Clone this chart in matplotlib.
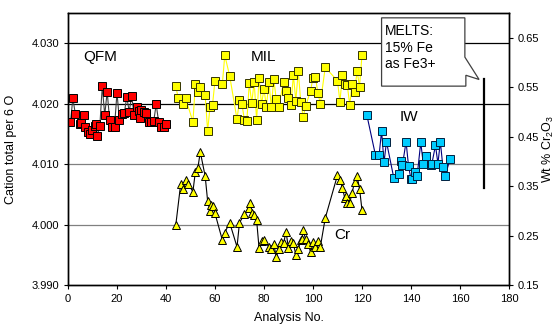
import matplotlib
matplotlib.use('Agg')
import matplotlib.pyplot as plt
from matplotlib.patches import Polygon
from matplotlib.ticker import FormatStrFormatter

plt.rcParams['font.family'] = ['Liberation Sans', 'DejaVu Sans']
plt.rcParams['mathtext.fontset'] = 'custom'
plt.rcParams['mathtext.rm'] = 'Liberation Sans'

# QFM series (red), left axis
qfm_x = [1, 2, 3, 5, 5.5, 6.5, 7, 8, 9, 10, 11, 11.5, 12, 13, 14, 15, 16, 17, 18, 19,
         20, 21, 22, 23, 24, 25, 26, 27, 28, 29, 29.5, 30, 31, 32, 33, 34, 35, 36, 37, 38, 39, 40]
qfm_y = [4.0169, 4.0209, 4.0183, 4.0166, 4.0168, 4.0181, 4.0161, 4.0153, 4.0150, 4.0156,
         4.0163, 4.0166, 4.0146, 4.0163, 4.0229, 4.0181, 4.0220, 4.0173, 4.0161, 4.0162,
         4.0218, 4.0173, 4.0183, 4.0185, 4.0211, 4.0187, 4.0213, 4.0181, 4.0194, 4.0188,
         4.0176, 4.0190, 4.0187, 4.0185, 4.0170, 4.0170, 4.0171, 4.0199, 4.0170, 4.0161,
         4.0161, 4.0167]

# MIL series (yellow squares), left axis
mil_x = [44, 45, 47, 48, 51, 52, 53, 54, 56, 57, 58, 59, 60, 63, 64, 66, 69, 70, 71, 72,
         73, 74, 75, 76, 77, 78, 79, 80, 81, 82, 83, 84, 85, 86, 88, 89, 90, 91, 92, 93,
         94, 95, 96, 97, 99, 100, 101, 102, 103, 105, 110, 111, 112, 113, 114, 115, 116,
         117, 118, 119, 120]
mil_y = [4.0229, 4.0209, 4.0200, 4.0209, 4.0170, 4.0232, 4.0219, 4.0228, 4.0214, 4.0155,
         4.0195, 4.0198, 4.0238, 4.0232, 4.0280, 4.0246, 4.0174, 4.0206, 4.0200, 4.0173,
         4.0171, 4.0234, 4.0201, 4.0236, 4.0173, 4.0242, 4.0199, 4.0224, 4.0195, 4.0236,
         4.0195, 4.0241, 4.0207, 4.0195, 4.0236, 4.0221, 4.0209, 4.0198, 4.0247, 4.0205,
         4.0254, 4.0203, 4.0178, 4.0196, 4.0221, 4.0243, 4.0244, 4.0218, 4.0200, 4.0260,
         4.0238, 4.0203, 4.0247, 4.0232, 4.0231, 4.0198, 4.0233, 4.0220, 4.0254, 4.0228,
         4.0280]

# Cr2O3 of the MIL analyses (triangles), right axis
cr_x = [44, 46, 47, 48, 49, 51, 52, 53, 54, 56, 57, 58, 58.5, 59, 60, 63, 64, 66, 69, 70,
        72, 74, 74.5, 75, 76, 77, 78, 79, 80, 82, 83, 84, 85, 86, 87, 88, 89, 90, 91, 92,
        93, 94, 95, 95.5, 96, 97, 98, 99, 100, 101, 102, 103, 105, 110, 111, 112, 113,
        113.5, 114, 115, 116, 117, 118, 119, 120]
cr_y = [0.271, 0.354, 0.344, 0.362, 0.354, 0.339, 0.379, 0.386, 0.419, 0.370, 0.320, 0.300,
        0.312, 0.310, 0.295, 0.241, 0.256, 0.276, 0.227, 0.276, 0.293, 0.305, 0.315, 0.295,
        0.291, 0.281, 0.224, 0.238, 0.241, 0.227, 0.222, 0.233, 0.207, 0.222, 0.236, 0.234,
        0.258, 0.224, 0.238, 0.234, 0.211, 0.222, 0.241, 0.244, 0.261, 0.242, 0.233, 0.217,
        0.236, 0.226, 0.238, 0.227, 0.285, 0.372, 0.362, 0.347, 0.325, 0.330, 0.315, 0.316,
        0.337, 0.359, 0.370, 0.345, 0.302]

# IW series (cyan), left axis
iw_x = [122, 125.5, 127, 128, 129, 130, 133, 135, 136, 136.5, 138, 139, 140, 140.5, 141.5,
        142.5, 144, 145, 146, 148, 148.5, 150, 151, 152, 153, 154, 156]
iw_y = [4.0181, 4.0115, 4.0115, 4.0155, 4.0103, 4.0137, 4.0077, 4.0083, 4.0105, 4.0098,
        4.0137, 4.0097, 4.0075, 4.0076, 4.0087, 4.0080, 4.0136, 4.0101, 4.0114, 4.0098,
        4.0100, 4.0131, 4.0101, 4.0137, 4.0096, 4.0081, 4.0109]

# MELTS model range (right axis)
melts_x = 170
melts_range = [0.346, 0.566]

fig = plt.figure(figsize=(5.59, 3.25), dpi=100)
ax = fig.add_axes([0.1216, 0.1231, 0.7889, 0.8369])
ax2 = ax.twinx()

# horizontal gridlines
for g, c in [(4.030, 'black'), (4.020, 'black'), (4.010, '#808080'), (4.000, '#808080')]:
    ax.axhline(g, color=c, lw=0.9, zorder=0.5)

ax.plot(qfm_x, qfm_y, color='#404040', lw=0.8, marker='s', ms=5.3,
        mfc='#ff0000', mec='black', mew=0.7, zorder=3)
ax.plot(mil_x, mil_y, color='#ffff00', lw=0.8, marker='s', ms=5.3,
        mfc='#ffff00', mec='#333300', mew=0.7, zorder=3)
ax.plot(iw_x, iw_y, color='#000080', lw=0.8, marker='s', ms=5.3,
        mfc='#00ccff', mec='#002040', mew=0.7, zorder=3)
ax2.plot(cr_x, cr_y, color='black', lw=0.8, marker='^', ms=6.3,
         mfc='#ffff00', mec='black', mew=0.7, zorder=3)
ax2.plot([melts_x, melts_x], melts_range, color='black', lw=1.6)

# MELTS callout
box = Polygon([(128, 4.0342), (162, 4.0342), (162, 4.0277), (167.8, 4.0240),
               (162.4, 4.0247), (162.4, 4.0229), (128, 4.0229)],
              closed=True, fc='white', ec='#404040', lw=0.9, zorder=4)
ax.add_patch(box)
ax.text(129.3, 4.0332, 'MELTS:\n15% Fe\nas Fe3+', fontsize=10, va='top', ha='left',
        linespacing=1.25, zorder=5)

# series labels
ax.text(13, 4.0277, 'QFM', fontsize=11, ha='center', va='center')
ax.text(80, 4.0277, 'MIL', fontsize=11, ha='center', va='center')
ax.text(139, 4.0178, 'IW', fontsize=11, ha='center', va='center')
ax.text(112, 3.9982, 'Cr', fontsize=11, ha='center', va='center')

ax.set_xlim(0, 180)
ax.set_xticks(range(0, 181, 20))
ax.set_ylim(3.990, 4.035)
ax.set_yticks([3.990, 4.000, 4.010, 4.020, 4.030])
ax.yaxis.set_major_formatter(FormatStrFormatter('%.3f'))
ax2.set_ylim(0.15, 0.70)
ax2.set_yticks([0.15, 0.25, 0.35, 0.45, 0.55, 0.65])
ax2.yaxis.set_major_formatter(FormatStrFormatter('%.2f'))

for a in (ax, ax2):
    a.tick_params(labelsize=8, length=3, width=0.8, color='black')
    for s in a.spines.values():
        s.set_linewidth(1.0)
        s.set_color('black')

ax.set_xlabel('Analysis No.', fontsize=9)
ax.xaxis.set_label_coords(0.5, -0.1)
ax.set_ylabel('Cation total per 6 O', fontsize=9)
ax.yaxis.set_label_coords(-0.116, 0.5)
ax2.set_ylabel('Wt % Cr$_2$O$_3$', fontsize=9)
ax2.yaxis.set_label_coords(1.072, 0.5)

fig.savefig('out.png', dpi=100)
